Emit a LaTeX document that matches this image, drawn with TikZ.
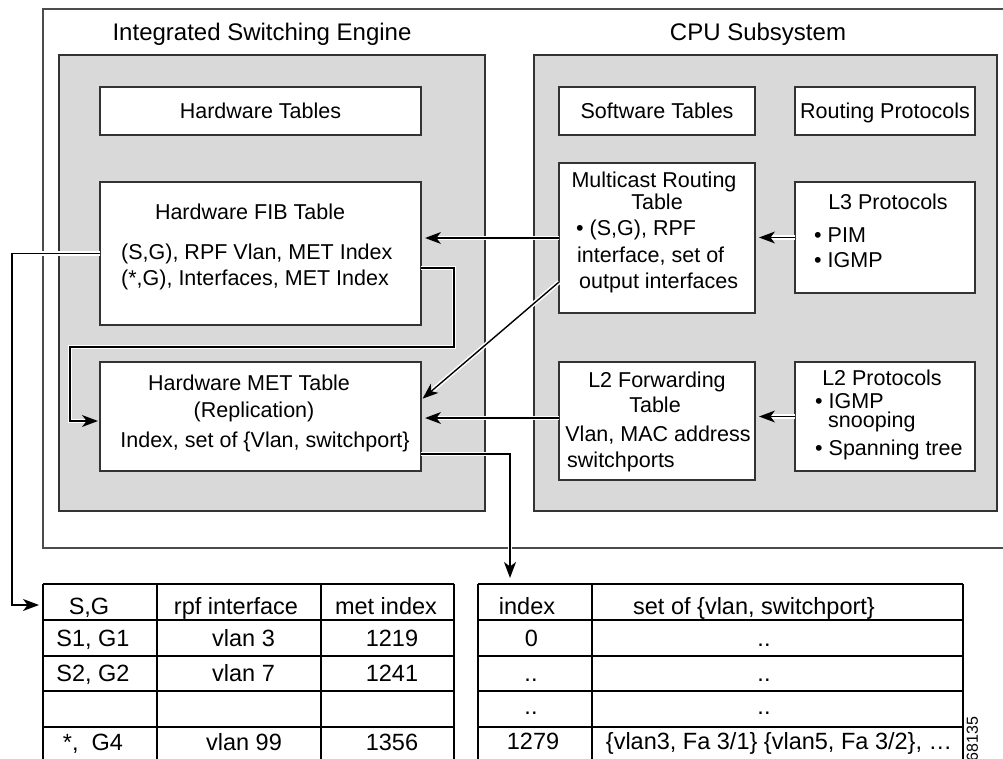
\documentclass[tikz,border=0pt]{standalone}
\usepackage{fontspec}
\setmainfont{Liberation Sans}
\usetikzlibrary{arrows.meta}

\tikzset{
    panel/.style={draw=black!80, line width=1.6pt, fill=black!15, inner sep=0pt, outer sep=0pt},
    tblbox/.style={draw=black!80, line width=1.6pt, fill=white, inner sep=0pt, outer sep=0pt},
    lbl/.style={font=\fontsize{21.5}{24}\selectfont, inner sep=0pt, text height=15.4pt, text depth=0pt},
    ttl/.style={font=\fontsize{24}{28}\selectfont, inner sep=0pt, text height=17.2pt, text depth=0pt},
    tcell/.style={font=\fontsize{23.5}{26}\selectfont, inner sep=0pt, text height=16.8pt, text depth=0pt},
    tline/.style={draw=black, line width=1.6pt},
    arr/.style={line width=1.4pt, -{Stealth[length=16pt,width=12pt,inset=4.5pt]},
        preaction={draw=white, line width=4.5pt}},
}

\begin{document}
\begin{tikzpicture}[x=1pt, y=-1pt]
    \useasboundingbox (0,0) rectangle (1003,759);
    % outer frame (its right side runs off the page)
    \draw[black!70, line width=1.6pt] (1003,9) -- (43,9) -- (43,548) -- (1003,548);
    \node[ttl] (t-ise) at (262,32) {Integrated Switching Engine};
    \node[ttl] (t-cpu) at (758,32) {CPU Subsystem};

    \node[panel, minimum width=426pt, minimum height=456pt] (hwpanel) at (272,283) {};
    \node[panel, minimum width=463pt, minimum height=456pt] (cpupanel) at (765.5,283) {};

    % hardware side
    \node[tblbox, lbl, minimum width=321pt, minimum height=48pt] (hwtab) at (260.5,111) {Hardware Tables};
    \node[tblbox, minimum width=321pt, minimum height=143pt] (fib) at (260.5,253.5) {};
        \node[lbl] (fib-t) at (250,211.5) {Hardware FIB Table};
        \node[lbl, anchor=west] (fib-a) at (121,252) {(S,G), RPF Vlan, MET Index};
        \node[lbl, anchor=west] (fib-b) at (121,278) {(*,G), Interfaces, MET Index};
    \node[tblbox, minimum width=321pt, minimum height=109pt] (met) at (260.5,416.5) {};
        \node[lbl] (met-t) at (249,383) {Hardware MET Table};
        \node[lbl] (met-a) at (254,410) {(Replication)};
        \node[lbl] (met-b) at (265,440) {Index, set of \{Vlan, switchport\}};

    % cpu side
    \node[tblbox, lbl, minimum width=196pt, minimum height=48pt] (swtab) at (657,111) {Software Tables};
    \node[tblbox, lbl, minimum width=180pt, minimum height=48pt] (rtproto) at (885,111) {Routing Protocols};
    \node[tblbox, minimum width=196pt, minimum height=150pt] (mrt) at (657,238) {};
        \node[lbl] (mrt-t) at (654,180) {Multicast Routing};
        \node[lbl] (mrt-u) at (657,202) {Table};
        \node[lbl, anchor=west] (mrt-a) at (576,228) {\textbullet\ (S,G), RPF};
        \node[lbl, anchor=west] (mrt-b) at (577,255) {interface, set of};
        \node[lbl, anchor=west] (mrt-c) at (579,281) {output interfaces};
    \node[tblbox, minimum width=180pt, minimum height=111pt] (l3) at (885,237.5) {};
        \node[lbl] (l3-t) at (888,202) {L3 Protocols};
        \node[lbl, anchor=west] (l3-a) at (814,235) {\textbullet\ PIM};
        \node[lbl, anchor=west] (l3-b) at (814,260) {\textbullet\ IGMP};
    \node[tblbox, minimum width=196pt, minimum height=118pt] (l2f) at (657,421) {};
        \node[lbl] (l2f-t) at (657,380) {L2 Forwarding};
        \node[lbl] (l2f-u) at (655,405) {Table};
        \node[lbl] (l2f-a) at (658,434) {Vlan, MAC address};
        \node[lbl, anchor=west] (l2f-b) at (567,460) {switchports};
    \node[tblbox, minimum width=180pt, minimum height=109pt] (l2p) at (885,416.5) {};
        \node[lbl] (l2p-t) at (882,378) {L2 Protocols};
        \node[lbl, anchor=west] (l2p-a) at (815,401) {\textbullet\ IGMP};
        \node[lbl, anchor=west] (l2p-b) at (828,420) {snooping};
        \node[lbl, anchor=west] (l2p-c) at (815,448) {\textbullet\ Spanning tree};

    % lookup tables (cut by the page bottom)
    \foreach \y in {584,620,656,691,727} {
        \draw[tline] (43,\y) -- (454,\y);
        \draw[tline] (478,\y) -- (963,\y);
    }
    \foreach \x in {43,157,321,454,478,592,963}
        \draw[tline] (\x,584) -- (\x,759);
    \coordinate (sgin) at (43,605);
    \coordinate (idxin) at (510,584);

    \node[tcell] (sg-h) at (89,606) {S,G};
    \node[tcell] (rpf-h) at (236,606) {rpf interface};
    \node[tcell] (mi-h) at (386,606) {met index};
    \node[tcell] (sg-1) at (93,638.5) {S1, G1};
    \node[tcell] (rpf-1) at (243.5,638.5) {vlan 3};
    \node[tcell] (mi-1) at (392,638.5) {1219};
    \node[tcell] (sg-2) at (93,673.5) {S2, G2};
    \node[tcell] (rpf-2) at (243.5,673.5) {vlan 7};
    \node[tcell] (mi-2) at (392,673.5) {1241};
    \node[tcell] (sg-4) at (93,742) {*,\ \ G4};
    \node[tcell] (rpf-4) at (244,742) {vlan 99};
    \node[tcell] (mi-4) at (392,742) {1356};

    \node[tcell] (ix-h) at (527,606) {index};
    \node[tcell] (set-h) at (754,606) {set of \{vlan, switchport\}};
    \node[tcell] (ix-1) at (531.5,638.5) {0};
    \node[tcell] (set-1) at (764,638.5) {..};
    \node[tcell] (ix-2) at (531,673.5) {..};
    \node[tcell] (set-2) at (764,673.5) {..};
    \node[tcell] (ix-3) at (531,706.5) {..};
    \node[tcell] (set-3) at (764,706.5) {..};
    \node[tcell] (ix-4) at (533,741) {1279};
    \node[tcell] (set-4) at (779,741) {\{vlan3, Fa 3/1\} \{vlan5, Fa 3/2\}, \dots};

    \node[font=\fontsize{16}{18}\selectfont, inner sep=0pt, text height=11.5pt, text depth=0pt, rotate=90] (figno) at (972,739) {68135};

    % connectors
    \draw[arr, shorten >=4pt] (mrt.west) -- (mrt.west -| fib.east);
    \draw[arr, shorten >=4pt] (l3.west) -- (l3.west -| mrt.east);
    \draw[arr, shorten >=2pt] ([yshift=-44pt]mrt.west) -- ([yshift=16.5pt]met.east);
    \draw[arr, shorten >=4pt] ([yshift=3pt]l2f.west) -- ([yshift=3pt]l2f.west -| met.east);
    \draw[arr, shorten >=4pt] (l2p.west) -- (l2p.west -| l2f.east);
    \coordinate (loopa) at (454,347);
    \coordinate (loopb) at (70,421);
    \draw[arr, shorten >=2pt] ([yshift=-14.5pt]fib.east) -| (loopa) -| (loopb) -- (loopb -| met.west);
    \coordinate (rail) at (12,605);
    \draw[arr, shorten >=4pt] (fib.west) -| (rail) -- (sgin);
    \draw[arr, shorten >=6pt] ([yshift=-37.5pt]met.east) -| (idxin);
\end{tikzpicture}
\end{document}
